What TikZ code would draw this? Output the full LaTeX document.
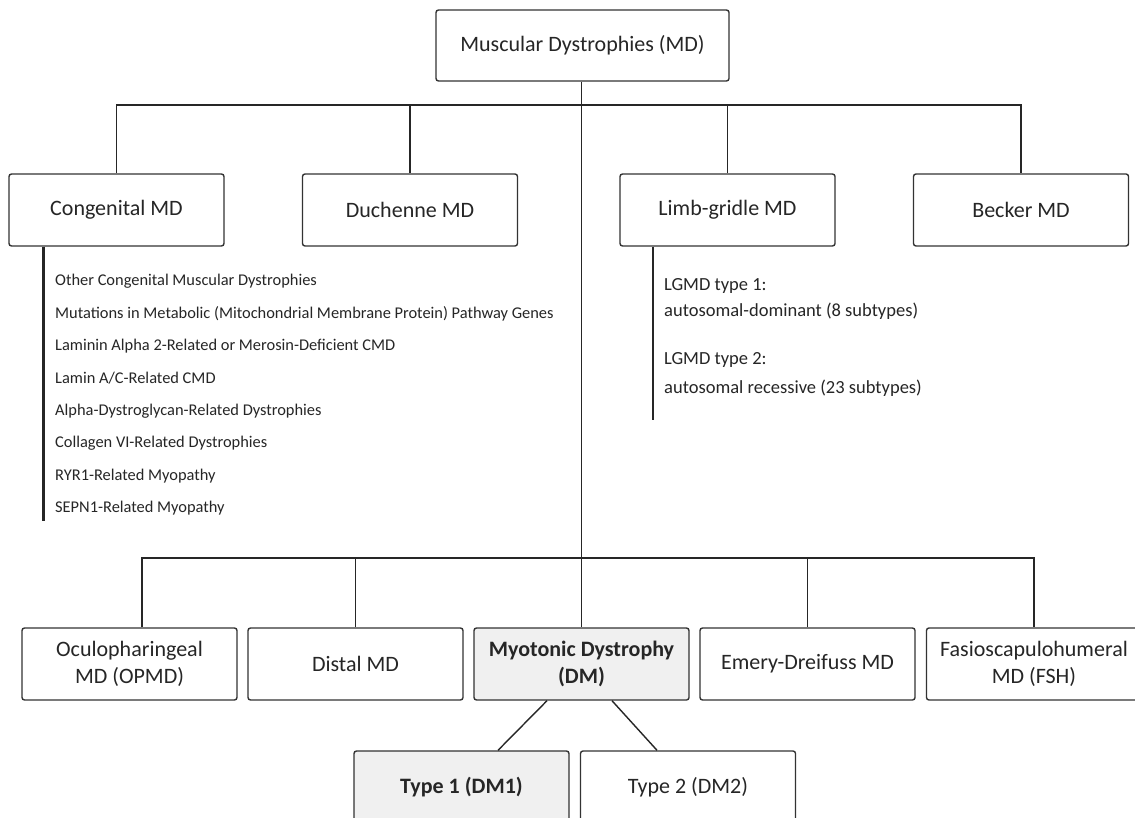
\documentclass[tikz,border=0pt]{standalone}
\usepackage{fontspec}
\setmainfont{Carlito}
\usetikzlibrary{calc}
\begin{document}
\begin{tikzpicture}[x=1pt,y=-1pt,
  box/.style={draw=black!80, line width=1.4pt, rounded corners=2.5pt, fill=white,
    minimum width=215pt, minimum height=72pt, inner sep=0pt, align=center,
    font=\fontsize{22}{27}\selectfont, text=black!85},
  graybox/.style={box, fill=black!6, font=\fontsize{22}{27}\selectfont\bfseries},
  bus/.style={line width=1.8pt, draw=black!85},
  listline/.style={line width=2.8pt, draw=black!85},
  citem/.style={anchor=west, inner sep=0pt, text=black!85,
    font=\fontsize{16.4}{19}\selectfont, text height=0.7em, text depth=0.2em},
  litem/.style={citem, font=\fontsize{18.5}{22}\selectfont}]
\fill[white] (0,0) rectangle (1135,818);
\useasboundingbox (0,0) rectangle (1135,818);

% top
\node[box, minimum width=293pt, minimum height=71pt] (top) at (582.5,45.5) {Muscular Dystrophies (MD)};
% row 1
\node[box] (cong)   at (116.5,210) {Congenital MD};
\node[box] (duch)   at (410,210)   {Duchenne MD};
\node[box] (limb)   at (727.5,210) {Limb-gridle MD};
\node[box] (becker) at (1021,210)  {Becker MD};
% row 2
\node[box] (opmd)  at (129.5,664) {Oculopharingeal\\MD (OPMD)};
\node[box] (distal) at (355.5,664) {Distal MD};
\node[graybox] (dm) at (581.5,664) {Myotonic Dystrophy\\(DM)};
\node[box] (emery) at (807.5,664) {Emery-Dreifuss MD};
\node[box] (fsh)   at (1034,664) {Fasioscapulohumeral\\MD (FSH)};
% row 3
\node[graybox] (t1) at (461.5,787) {Type 1 (DM1)};
\node[box] (t2) at (688,787) {Type 2 (DM2)};

% congenital list
\node[citem] (c1) at (55,283) {Other Congenital Muscular Dystrophies};
\node[citem] (c2) at (55,316) {Mutations in Metabolic (Mitochondrial Membrane Protein) Pathway Genes};
\node[citem] (c3) at (55,348) {Laminin Alpha 2-Related or Merosin-Deficient CMD};
\node[citem] (c4) at (55,381) {Lamin A/C-Related CMD};
\node[citem] (c5) at (55,413) {Alpha-Dystroglycan-Related Dystrophies};
\node[citem] (c6) at (55,445) {Collagen VI-Related Dystrophies};
\node[citem] (c7) at (55,478) {RYR1-Related Myopathy};
\node[citem] (c8) at (55,510) {SEPN1-Related Myopathy};

% LGMD list
\node[litem] (l1) at (664,288) {LGMD type 1:};
\node[litem] (l2) at (664,314) {autosomal-dominant (8 subtypes)};
\node[litem] (l3) at (664,362) {LGMD type 2:};
\node[litem] (l4) at (664,391) {autosomal recessive (23 subtypes)};

% coordinates
\coordinate (tbus) at (582,105);
\coordinate (bbus) at (582,558);
\coordinate (cEnd) at (43.6,521);
\coordinate (lEnd) at (653,420);

% top bus
\draw[bus] (cong.north) -- (cong.north |- tbus) -- (becker.north |- tbus) -- (becker.north);
\draw[bus] (duch.north) -- (duch.north |- tbus);
\draw[bus] (limb.north) -- (limb.north |- tbus);
% trunk
\draw[bus] (top.south -| dm.north) -- (dm.north);
% bottom bus
\draw[bus] ($(opmd.north)+(12.5,0)$) -- ($(opmd.north |- bbus)+(12.5,0)$) -- (fsh.north |- bbus) -- (fsh.north);
\draw[bus] (distal.north) -- (distal.north |- bbus);
\draw[bus] (emery.north) -- (emery.north |- bbus);
% DM to types
\draw[bus, line width=1.4pt] ($(dm.south)+(-34.5,0)$) -- ($(t1.north)+(36.5,0)$);
\draw[bus, line width=1.4pt] ($(dm.south)+(30.5,0)$) -- ($(t2.north)+(-31,0)$);
% lists
\draw[listline] (cEnd |- cong.south) -- (cEnd);
\draw[listline] (lEnd |- limb.south) -- (lEnd);
\end{tikzpicture}
\end{document}
